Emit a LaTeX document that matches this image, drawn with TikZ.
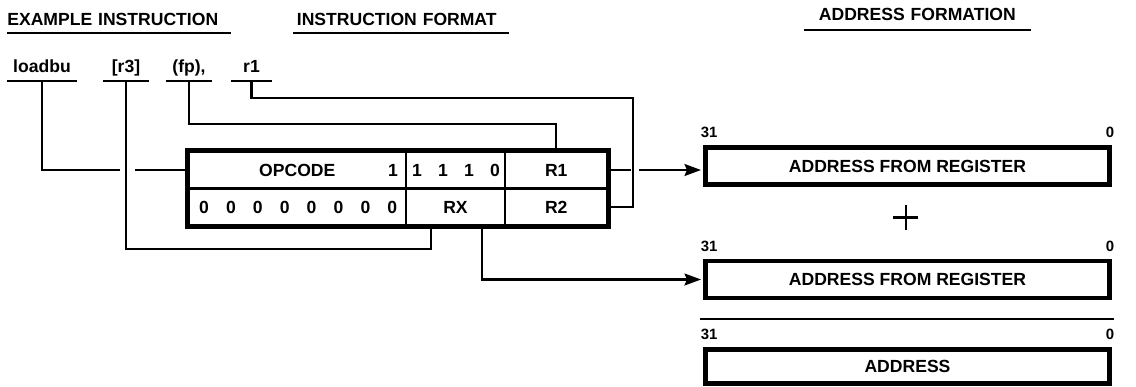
\documentclass[tikz,border=0pt]{standalone}
\usepackage{fontspec}
\newfontfamily\hv[FakeStretch=1.0]{Liberation Sans}
\usetikzlibrary{arrows.meta,positioning,calc}

\tikzset{
  wire/.style={line width=1.15pt},
  heading/.style={anchor=base west, inner xsep=0pt, inner ysep=4.5pt, text depth=0pt},
  opnd/.style={anchor=base, inner xsep=0pt, inner ysep=5.1pt, text depth=0pt},
  cell/.style={draw, line width=1.15pt, minimum height=0.74cm, inner sep=0pt},
  abox/.style={draw, line width=2.8pt, minimum width=8.08cm, minimum height=0.74cm, inner sep=0pt},
  bitno/.style={font=\hv\bfseries\fontsize{8.5}{10}\selectfont, inner sep=0pt},
  tip/.style={-{Stealth[length=0.33cm,width=0.24cm,inset=0.05cm]}, shorten >=1.2pt}
}

\begin{document}
\begin{tikzpicture}[x=0.02cm, y=-0.02cm, font=\hv\bfseries\fontsize{10}{12}\selectfont]
  \useasboundingbox (0,0) rectangle (1136,386);

  % headings
  \node[heading, text width=4.46cm, align=left] (hdex) at (7,25) {EXAMPLE INSTRUCTION};
  \node[heading, text width=4.3cm, align=left] (hdfmt) at (293,25) {\hspace*{2pt}INSTRUCTION FORMAT};
  \node[heading, text width=4.52cm, align=center, inner ysep=5.6pt] (hdaddr) at (804,20) {ADDRESS FORMATION};
  \draw[wire] (hdex.south west) -- (hdex.south east);
  \draw[wire] (hdfmt.south west) -- (hdfmt.south east);
  \draw[wire] (hdaddr.south west) -- (hdaddr.south east);

  % example instruction
  \node[opnd, minimum width=1.4cm] (loadbu) at (42,72) {loadbu};
  \node[opnd, minimum width=0.92cm] (r3) at (126,72) {[r3]};
  \node[opnd, minimum width=0.92cm] (fp) at (189,72) {(fp),};
  \node[opnd, minimum width=0.82cm] (rone) at (251.5,72) {r1};
  \foreach \n in {loadbu,r3,fp,rone}
    \draw[wire] (\n.south west) -- (\n.south east);

  % instruction format
  \node[cell, minimum width=4.35cm] (op) at (297.25,170) {OPCODE};
  \node[cell, minimum width=1.98cm] (cnst) at (455.5,170) {};
  \node[cell, minimum width=2.05cm] (rfa) at (556.25,170) {R1};
  \node[cell, minimum width=4.35cm] (zer) at (297.25,207) {};
  \node[cell, minimum width=1.98cm] (rx) at (455.5,207) {RX};
  \node[cell, minimum width=2.05cm] (rfb) at (556.25,207) {R2};
  \draw[line width=2.8pt] (op.north west) rectangle (rfb.south east);
  \node (opbit) at (393,170) {1};
  \foreach \b [count=\i from 0] in {1,1,1,0}
    \node (c\i) at (417+26*\i,170) {\b};
  \foreach \i in {0,...,7}
    \node (z\i) at (204+26.9*\i,207) {0};

  % address formation
  \node[abox] (aone) at (907.5,166) {ADDRESS FROM REGISTER};
  \node[abox] (atwo) at (907.5,279.5) {ADDRESS FROM REGISTER};
  \node[abox, minimum height=0.68cm] (asum) at (907.5,366.5) {ADDRESS};
  \foreach \a in {aone,atwo,asum} {
    \node[bitno, anchor=base west] (\a hi) at ([xshift=-0.05cm,yshift=0.15cm]\a.north west) {31};
    \node[bitno, anchor=base east] (\a lo) at ([xshift=0.05cm,yshift=0.15cm]\a.north east) {0};
  }
  \coordinate (plus) at (905.5,217.5);
  \draw[wire] ([xshift=-0.25cm]plus) -- ([xshift=0.25cm]plus)
              ([yshift=0.25cm]plus) -- ([yshift=-0.25cm]plus);
  \draw[wire] ([xshift=-0.07cm,yshift=0.57cm]asum.north west) -- ([xshift=0.05cm,yshift=0.57cm]asum.north east);

  % connectors
  \coordinate (rxin) at ($(rx.south west)!0.26!(rx.south east)$);
  \coordinate (rxout) at ($(rx.south west)!0.76!(rx.south east)$);
  \coordinate (rail) at (633,98);
  \draw[wire] (loadbu.south) |- ([xshift=-0.12cm]r3.south |- op.west);
  \draw[wire] ([xshift=0.18cm]r3.south |- op.west) -- (op.west);
  \draw[wire] (r3.south) |- ([yshift=-0.45cm]rxin) -- (rxin);
  \draw[wire] (fp.south) |- ([yshift=0.53cm]rfa.north) -- (rfa.north);
  \draw[wire] (rone.south) |- (rail) |- (rfb.east);
  \draw[wire] (rfa.east) -- ([xshift=-0.04cm]rail |- rfa.east);
  \draw[wire, tip] ([xshift=0.12cm]rail |- rfa.east) -- (aone.west |- rfa.east);
  \draw[wire, tip] (rxout) |- (atwo.west);
\end{tikzpicture}
\end{document}
